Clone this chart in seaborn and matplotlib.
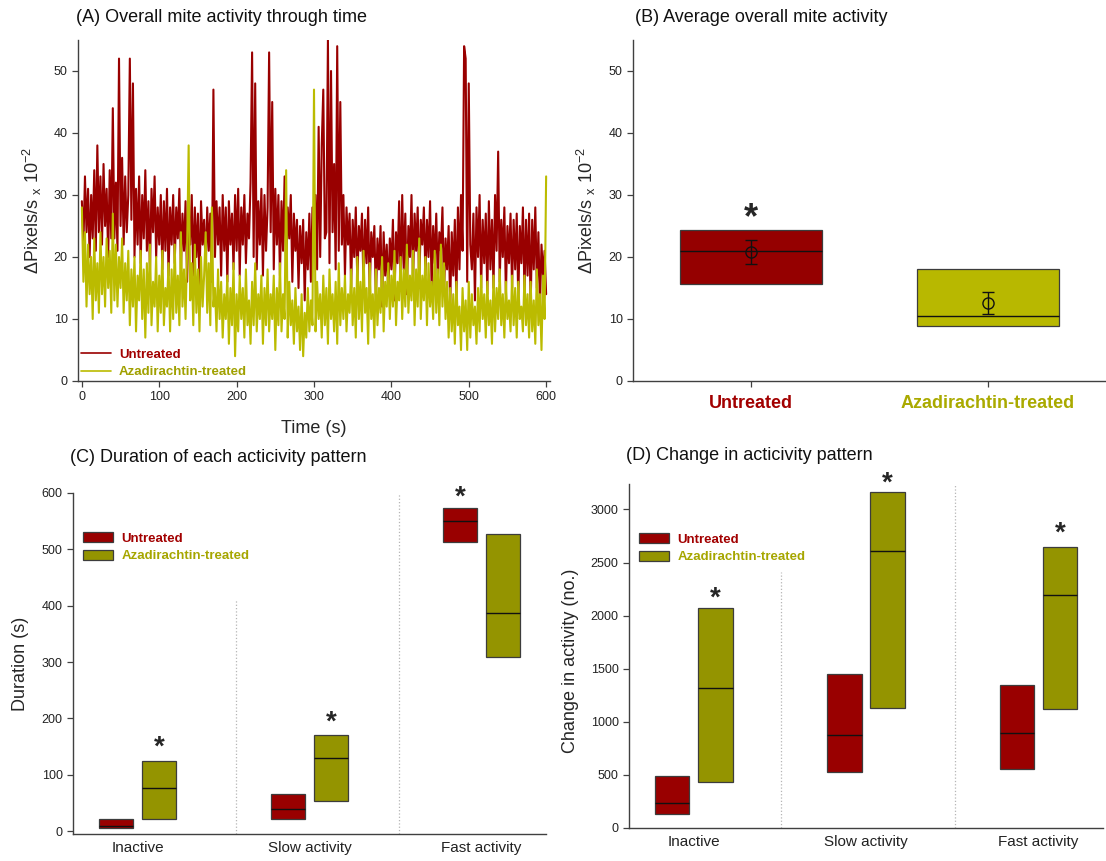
import matplotlib
matplotlib.use("Agg")
import matplotlib.pyplot as plt
from matplotlib.lines import Line2D
from matplotlib.patches import Patch
import pandas as pd
import seaborn as sns

# ---- panel A: activity trace, one reading every 2 s (Pixels/s x 10^-2)
time_s = list(range(0, 601, 2))
untreated_trace = [
    29, 22, 33, 24, 31, 20, 30, 23, 34, 21,
    38, 24, 33, 22, 35, 25, 31, 20, 34, 23,
    44, 23, 32, 21, 52, 25, 36, 22, 33, 24,
    30, 52, 26, 48, 20, 31, 22, 33, 19, 30,
    23, 34, 21, 29, 18, 31, 24, 33, 20, 28,
    22, 30, 18, 29, 21, 31, 17, 28, 22, 30,
    19, 28, 23, 31, 18, 27, 21, 29, 16, 27,
    22, 30, 17, 28, 20, 27, 15, 29, 22, 26,
    18, 28, 21, 27, 16, 47, 20, 29, 22, 28,
    17, 30, 21, 28, 16, 29, 22, 27, 18, 30,
    21, 31, 17, 28, 22, 30, 19, 27, 23, 32,
    53, 20, 48, 18, 29, 22, 31, 17, 30, 21,
    28, 53, 24, 45, 18, 31, 22, 30, 17, 29,
    21, 33, 18, 28, 23, 30, 16, 27, 21, 26,
    15, 25, 19, 26, 13, 24, 18, 27, 16, 28,
    22, 30, 18, 41, 20, 38, 47, 23, 24, 55,
    19, 50, 24, 35, 18, 54, 21, 45, 22, 30,
    17, 28, 22, 27, 15, 26, 20, 28, 16, 25,
    21, 27, 15, 26, 19, 28, 14, 24, 20, 25,
    13, 23, 18, 25, 12, 24, 17, 22, 14, 23,
    18, 26, 13, 24, 19, 29, 15, 30, 18, 27,
    14, 25, 20, 30, 16, 27, 21, 28, 15, 26,
    22, 28, 17, 26, 20, 29, 15, 25, 19, 27,
    16, 24, 21, 28, 14, 23, 18, 25, 12, 24,
    17, 26, 13, 28, 18, 30, 21, 54, 52, 16,
    48, 22, 18, 27, 13, 28, 20, 30, 15, 26,
    19, 27, 14, 29, 18, 26, 15, 30, 21, 37,
    16, 26, 20, 28, 14, 25, 19, 27, 15, 26,
    18, 27, 13, 25, 19, 28, 14, 26, 17, 27,
    12, 26, 18, 28, 15, 24, 12, 22, 17, 21,
    14,
]
treated_trace = [
    28, 16, 24, 12, 22, 14, 20, 10, 23, 13,
    19, 11, 24, 14, 20, 12, 23, 15, 21, 11,
    27, 13, 22, 12, 20, 15, 23, 11, 19, 13,
    21, 9, 18, 12, 20, 8, 17, 13, 21, 10,
    18, 7, 19, 11, 22, 9, 16, 12, 20, 8,
    17, 11, 21, 9, 15, 12, 19, 8, 18, 10,
    22, 11, 17, 9, 24, 12, 18, 10, 21, 38,
    13, 19, 9, 22, 11, 18, 8, 20, 12, 17,
    24, 11, 19, 9, 28, 12, 15, 8, 18, 10,
    16, 7, 14, 10, 17, 6, 15, 9, 19, 4,
    14, 8, 17, 10, 15, 7, 18, 9, 13, 6,
    16, 9, 19, 8, 14, 10, 17, 6, 15, 9,
    18, 8, 14, 10, 17, 5, 15, 9, 19, 8,
    14, 10, 34, 7, 16, 9, 13, 6, 15, 8,
    12, 5, 14, 4, 11, 7, 15, 8, 13, 9,
    47, 8, 16, 10, 14, 7, 17, 9, 15, 6,
    18, 10, 14, 8, 16, 6, 19, 9, 15, 10,
    17, 8, 14, 11, 18, 9, 15, 7, 20, 10,
    16, 8, 21, 11, 15, 6, 19, 10, 14, 7,
    18, 9, 15, 11, 20, 8, 16, 12, 19, 10,
    17, 12, 21, 9, 16, 13, 20, 10, 18, 12,
    22, 11, 17, 13, 21, 9, 18, 12, 23, 10,
    17, 13, 20, 9, 19, 12, 16, 10, 21, 11,
    18, 9, 22, 12, 19, 10, 16, 7, 15, 8,
    14, 6, 16, 9, 12, 5, 15, 8, 13, 5,
    16, 7, 14, 9, 12, 6, 15, 8, 17, 10,
    14, 7, 16, 9, 13, 6, 17, 8, 15, 10,
    18, 9, 14, 7, 16, 10, 13, 8, 17, 9,
    15, 7, 16, 10, 12, 8, 17, 9, 14, 7,
    16, 8, 13, 6, 18, 9, 14, 5, 17, 10,
    33,
]

# ---- panel B: average activity (box = q1/median/q3, circle = mean with error)
groups = ["Untreated", "Azadirachtin-treated"]
avg_q1 = [15.7, 8.9]
avg_median = [20.9, 10.5]
avg_q3 = [24.4, 18.1]
avg_mean = [20.8, 12.6]
avg_err_low = [18.9, 10.8]
avg_err_high = [22.7, 14.4]
avg_star = 27.8

# ---- panels C and D: activity patterns
patterns = ["Inactive", "Slow activity", "Fast activity"]
dur_untreated_q1 = [5, 21, 513]
dur_untreated_med = [9.5, 38.5, 550]
dur_untreated_q3 = [21, 66, 573]
dur_treated_q1 = [21, 53, 309]
dur_treated_med = [76, 129, 387]
dur_treated_q3 = [125, 170, 527]
dur_star_group = [1, 1, 0]
dur_star = [162, 206, 606]

chg_untreated_q1 = [134, 525, 557]
chg_untreated_med = [239, 879, 892]
chg_untreated_q3 = [494, 1446, 1350]
chg_treated_q1 = [436, 1127, 1121]
chg_treated_med = [1322, 2611, 2194]
chg_treated_q3 = [2076, 3162, 2643]
chg_star_group = [1, 1, 1]
chg_star = [2236, 3318, 2847]

RED_LINE, YEL_LINE = "#990000", "#BBBB00"
RED_B, YEL_B = "#950000", "#B8B800"
RED_BOX, OLIVE_BOX = "#990000", "#949400"
RED_TXT, YEL_TXT = "#A20000", "#A6A600"
EDGE = "#3c3c3c"
AX_COL = "#404040"

sns.set_style("ticks")
plt.rcParams["font.family"] = ["Liberation Sans", "DejaVu Sans"]
plt.rcParams["mathtext.fontset"] = "custom"
plt.rcParams["mathtext.rm"] = "Liberation Sans"


def box_frame(cats, q1s, meds, q3s, group):
    # five points per box so the quartiles come out
    rows = []
    for c, a, m, b in zip(cats, q1s, meds, q3s):
        for v in (a, a, m, b, b):
            rows.append({"cat": c, "group": group, "value": v})
    return pd.DataFrame(rows)


def style_axes(ax):
    sns.despine(ax=ax)
    for s in ("left", "bottom"):
        ax.spines[s].set_color(AX_COL)
        ax.spines[s].set_linewidth(1.0)
    ax.tick_params(colors=AX_COL, labelcolor="#222222", labelsize=9,
                   length=4, width=0.9)


W, H = 1106, 861
fig = plt.figure(figsize=(W / 100, H / 100), dpi=100)


def add_ax(x0, y_top, x1, y_bot):
    return fig.add_axes([x0 / W, 1 - y_bot / H, (x1 - x0) / W, (y_bot - y_top) / H])


axA = add_ax(78, 40, 550, 381)
axB = add_ax(633, 40, 1106, 381)
axC = add_ax(73, 493, 546, 834)
axD = add_ax(629, 484, 1103, 828)

ylab = "ΔPixels/s $\\mathregular{_x}$ 10$^{\\mathregular{-2}}$"

# ---- A
sns.lineplot(x=time_s, y=untreated_trace, color=RED_LINE, lw=1.5,
             estimator=None, ax=axA)
sns.lineplot(x=time_s, y=treated_trace, color=YEL_LINE, lw=1.5,
             estimator=None, ax=axA)
axA.set_xlim(-5, 605)
axA.set_ylim(0, 55)
axA.set_xticks(range(0, 601, 100))
axA.set_yticks(range(0, 51, 10))
style_axes(axA)
axA.set_xlabel("Time (s)", fontsize=13)
axA.xaxis.set_label_coords(0.5, -0.115)
axA.set_ylabel(ylab, fontsize=13)
axA.yaxis.set_label_coords(-0.071, 0.5)
handles = [Line2D([], [], color=RED_LINE, lw=1.2), Line2D([], [], color=YEL_LINE, lw=1.2)]
axA.legend(handles, groups, loc="lower left", bbox_to_anchor=(0.0, 0.0), frameon=False,
           prop={"weight": "bold", "size": 9.5}, labelcolor=[RED_TXT, "#A0A000"],
           handlelength=2.3, handletextpad=0.6, labelspacing=0.4,
           borderaxespad=0.05, borderpad=0.15)

# ---- B
dfB = pd.concat([box_frame([g], [a], [m], [b], g)
                 for g, a, m, b in zip(groups, avg_q1, avg_median, avg_q3)])
sns.boxplot(data=dfB, x="cat", y="value", hue="group", order=groups, hue_order=groups,
            palette=[RED_B, YEL_B], width=0.6, saturation=1, whis=0, showcaps=False,
            showfliers=False, linewidth=0.9, linecolor=EDGE, dodge=False,
            medianprops={"color": "#111111", "linewidth": 1.0}, legend=False, ax=axB)
axB.errorbar(range(len(groups)), avg_mean,
             yerr=[[m - lo for m, lo in zip(avg_mean, avg_err_low)],
                   [hi - m for m, hi in zip(avg_mean, avg_err_high)]],
             fmt="o", ms=8, mfc="none", mec="#111111", mew=1.0, ecolor="#111111",
             elinewidth=1.0, capsize=4, capthick=1.0, zorder=5)
axB.set_xlim(-0.5, 1.5)
axB.set_ylim(0, 55)
axB.set_yticks(range(0, 51, 10))
style_axes(axB)
axB.tick_params(axis="x", labelsize=13, pad=6)
for lab, col in zip(axB.get_xticklabels(), [RED_TXT, "#AAAA00"]):
    lab.set_color(col)
    lab.set_fontweight("bold")
axB.set_xlabel("")
axB.set_ylabel(ylab, fontsize=13)
axB.yaxis.set_label_coords(-0.074, 0.5)
axB.annotate("*", xy=(0, avg_star), xytext=(0, -7), textcoords="offset points",
             ha="center", va="center", fontsize=26, fontweight="bold")


# ---- C and D
def pattern_panel(ax, uq1, umed, uq3, tq1, tmed, tq3, star_grp, star_val):
    df = pd.concat([box_frame(patterns, uq1, umed, uq3, groups[0]),
                    box_frame(patterns, tq1, tmed, tq3, groups[1])])
    sns.boxplot(data=df, x="cat", y="value", hue="group", order=patterns,
                hue_order=groups, palette=[RED_BOX, OLIVE_BOX], width=0.5, gap=0.2,
                saturation=1, whis=0, showcaps=False, showfliers=False,
                linewidth=0.9, linecolor=EDGE,
                medianprops={"color": "#111111", "linewidth": 1.0},
                legend=False, ax=ax)
    for i, (g, v) in enumerate(zip(star_grp, star_val)):
        ax.annotate("*", xy=(i + (-0.125 if g == 0 else 0.125), v), xytext=(0, -5.5),
                    textcoords="offset points", ha="center", va="center",
                    fontsize=20, fontweight="bold", annotation_clip=False)
    ax.set_xlim(-0.376, 2.374)
    style_axes(ax)
    ax.tick_params(axis="x", length=0, labelsize=11, pad=5)
    ax.set_xlabel("")
    legend_handles = [Patch(facecolor=RED_BOX, edgecolor=EDGE, lw=0.9),
                      Patch(facecolor=OLIVE_BOX, edgecolor=EDGE, lw=0.9)]
    return legend_handles


hC = pattern_panel(axC, dur_untreated_q1, dur_untreated_med, dur_untreated_q3,
                   dur_treated_q1, dur_treated_med, dur_treated_q3,
                   dur_star_group, dur_star)
axC.set_ylim(-5, 600)
axC.set_yticks(range(0, 601, 100))
axC.plot([0.57, 0.57], [-5, 410], ls=":", color="#b5b5b5", lw=0.9)
axC.plot([1.52, 1.52], [-5, 600], ls=":", color="#b5b5b5", lw=0.9)
axC.set_ylabel("Duration (s)", fontsize=13)
axC.yaxis.set_label_coords(-0.093, 0.5)
axC.legend(hC, groups, loc="upper left", bbox_to_anchor=(0.021, 0.885), frameon=False,
           prop={"weight": "bold", "size": 9.5}, labelcolor=[RED_TXT, YEL_TXT],
           handlelength=2.3, handleheight=0.75, handletextpad=0.6, labelspacing=0.4,
           borderaxespad=0, borderpad=0)

hD = pattern_panel(axD, chg_untreated_q1, chg_untreated_med, chg_untreated_q3,
                   chg_treated_q1, chg_treated_med, chg_treated_q3,
                   chg_star_group, chg_star)
axD.set_ylim(0, 3240)
axD.set_yticks(range(0, 3001, 500))
axD.plot([0.506, 0.506], [0, 2411], ls=":", color="#b5b5b5", lw=0.9)
axD.plot([1.515, 1.515], [0, 3240], ls=":", color="#b5b5b5", lw=0.9)
axD.set_ylabel("Change in activity (no.)", fontsize=13)
axD.yaxis.set_label_coords(-0.105, 0.485)
axD.legend(hD, groups, loc="upper left", bbox_to_anchor=(0.021, 0.857), frameon=False,
           prop={"weight": "bold", "size": 9.5}, labelcolor=[RED_TXT, YEL_TXT],
           handlelength=2.3, handleheight=0.75, handletextpad=0.6, labelspacing=0.4,
           borderaxespad=0, borderpad=0)

# ---- panel titles
for x, y, t in [(76, 17, "(A) Overall mite activity through time"),
                (635, 17, "(B) Average overall mite activity"),
                (70, 458, "(C) Duration of each acticivity pattern"),
                (626, 456, "(D) Change in acticivity pattern")]:
    fig.text(x / W, 1 - y / H, t, ha="left", va="center", fontsize=13, color="#111111")

fig.savefig("out.png", dpi=100)
